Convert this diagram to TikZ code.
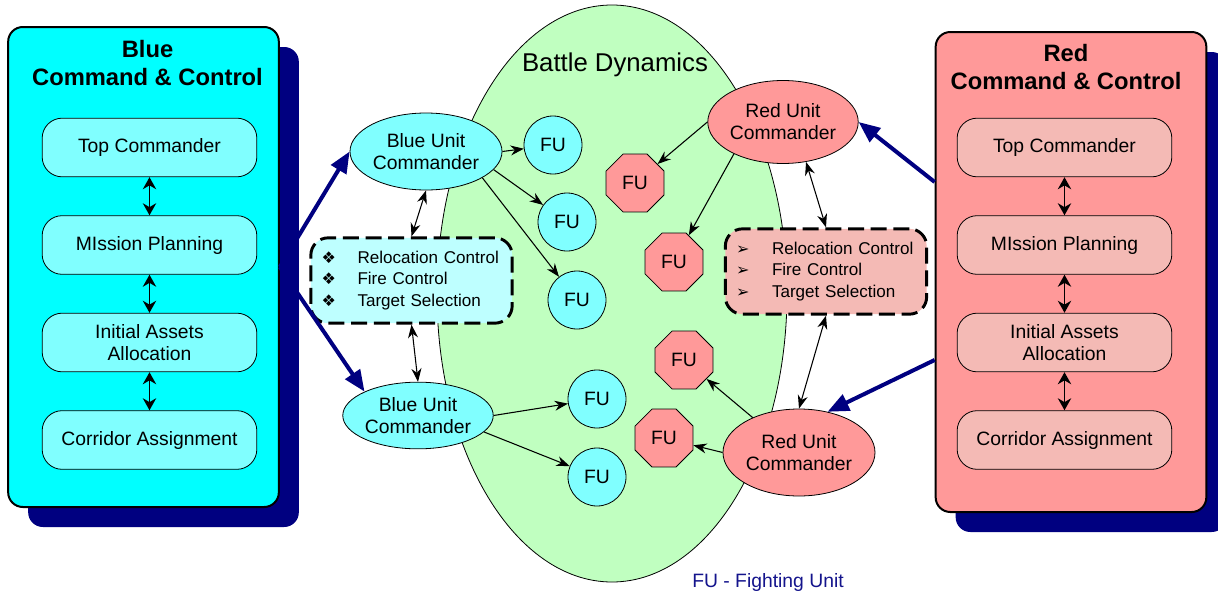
\documentclass[tikz,border=0pt]{standalone}
\usepackage{fontspec}
\setmainfont{Liberation Sans}
\newfontfamily\symfont{DejaVu Sans}
\usetikzlibrary{shapes.geometric,arrows.meta,shadows}
\definecolor{navyblue}{RGB}{0,0,128}
\definecolor{cyanfull}{RGB}{0,255,255}
\definecolor{bluelight}{RGB}{128,255,255}
\definecolor{bluepale}{RGB}{190,255,255}
\definecolor{redmid}{RGB}{255,153,153}
\definecolor{redpale}{RGB}{244,186,181}
\definecolor{greenpale}{RGB}{192,255,192}
\definecolor{legendblue}{RGB}{20,20,140}
\newcommand{\bulletbox}[1]{\makebox[27pt][l]{\symfont\fontsize{12}{12}\selectfont #1}}
\begin{document}
\begin{tikzpicture}[x=0.75pt,y=-0.75pt]
	\tikzstyle{pnl} = [draw, line width=1.5pt, rounded corners=11pt, minimum width=203pt, minimum height=360pt, drop shadow={shadow xshift=15pt, shadow yshift=-15pt, fill=navyblue, opacity=1}]
	\tikzstyle{task} = [draw, line width=0.6pt, rounded corners=15pt, minimum width=161pt, minimum height=44pt, align=center, font=\fontsize{14.5}{17}\selectfont]
	\tikzstyle{unit} = [draw, line width=0.6pt, shape=ellipse, inner sep=0pt, align=center, font=\fontsize{14.5}{16.5}\selectfont]
	\tikzstyle{bfu} = [draw, line width=0.6pt, shape=circle, fill=bluelight, minimum size=43.5pt, inner sep=0pt, font=\fontsize{14.5}{17}\selectfont]
	\tikzstyle{rfu} = [draw, line width=0.6pt, shape=regular polygon, regular polygon sides=8, fill=redmid, minimum size=47pt, inner sep=0pt, font=\fontsize{14.5}{17}\selectfont]
	\tikzstyle{orders} = [draw, line width=2.2pt, dash pattern=on 12pt off 5pt, rounded corners=13pt, minimum height=64pt, text width=135pt, inner xsep=8pt, align=left, font=\fontsize{12.8}{16}\selectfont]
	\tikzstyle{title} = [align=center, font=\bfseries\fontsize{17.8}{21}\selectfont]
	\tikzstyle{chain} = [{Stealth[length=9pt,width=10pt]}-{Stealth[length=9pt,width=10pt]}, line width=1.3pt]
	\tikzstyle{link} = [{Stealth[length=10pt,width=7.5pt]}-{Stealth[length=10pt,width=7.5pt]}, line width=0.8pt]
	\tikzstyle{cmd} = [-{Stealth[length=10pt,width=7.5pt]}, line width=0.8pt]
	\tikzstyle{tie} = [-{Triangle[length=16pt,width=13pt]}, line width=3pt, draw=navyblue]

	\useasboundingbox (0,0) rectangle (1218,596);

	% battle area
	\node[draw, line width=0.6pt, shape=ellipse, fill=greenpale, minimum width=262.5pt, minimum height=432.75pt] (battle) at (612,293.5) {};
	\node[font=\fontsize{19.3}{22}\selectfont] (bdtitle) at (615,65) {Battle Dynamics};

	% blue command and control
	\node[pnl, fill=cyanfull] (bcc) at (143.5,267) {};
	\node[title] (btitle) at (147.5,63) {Blue\\Command \& Control};
	\node[task, fill=bluelight] (btop) at (149.5,147.5) {Top Commander};
	\node[task, fill=bluelight] (bplan) at (149.5,245) {MIssion Planning};
	\node[task, fill=bluelight] (bassets) at (149.5,342.5) {Initial Assets\\Allocation};
	\node[task, fill=bluelight] (bcorr) at (149.5,440) {Corridor Assignment};
	\draw[chain] (btop) -- (bplan);
	\draw[chain] (bplan) -- (bassets);
	\draw[chain] (bassets) -- (bcorr);

	% red command and control
	\node[pnl, fill=redmid] (rcc) at (1071,272) {};
	\node[title] (rtitle) at (1066,67.5) {Red\\Command \& Control};
	\node[task, fill=redpale] (rtop) at (1064.5,147.5) {Top Commander};
	\node[task, fill=redpale] (rplan) at (1064.5,245) {MIssion Planning};
	\node[task, fill=redpale] (rassets) at (1064.5,342.5) {Initial Assets\\Allocation};
	\node[task, fill=redpale] (rcorr) at (1064.5,440) {Corridor Assignment};
	\draw[chain] (rtop) -- (rplan);
	\draw[chain] (rplan) -- (rassets);
	\draw[chain] (rassets) -- (rcorr);

	% unit commanders
	\node[unit, fill=bluelight, minimum width=114pt, minimum height=57.75pt] (bunit1) at (426,151.5) {Blue Unit\\Commander};
	\node[unit, fill=bluelight, minimum width=109.5pt, minimum height=50pt] (bunit2) at (418,415.5) {Blue Unit\\Commander};
	\node[unit, fill=redmid, minimum width=109.5pt, minimum height=62.25pt] (runit1) at (783,122) {Red Unit\\Commander};
	\node[unit, fill=redmid, minimum width=114pt, minimum height=65.25pt] (runit2) at (799,452.5) {Red Unit\\Commander};

	% fighting units
	\node[bfu] (bfu1) at (553,145) {FU};
	\node[bfu] (bfu2) at (567,222) {FU};
	\node[bfu] (bfu3) at (577,300) {FU};
	\node[bfu] (bfu4) at (597,399) {FU};
	\node[bfu] (bfu5) at (597,477) {FU};
	\node[rfu] (rfu1) at (635,183) {FU};
	\node[rfu] (rfu2) at (674,262) {FU};
	\node[rfu] (rfu3) at (684,360) {FU};
	\node[rfu] (rfu4) at (664,438) {FU};

	% orders
	\node[orders, fill=bluepale] (borders) at (411.5,280.5) {\bulletbox{❖}Relocation Control\\\bulletbox{❖}Fire Control\\\bulletbox{❖}Target Selection};
	\node[orders, fill=redpale] (rorders) at (826,271.5) {\bulletbox{➢}Relocation Control\\\bulletbox{➢}Fire Control\\\bulletbox{➢}Target Selection};

	% connectors
	\draw[tie] (bcc.east) -- (bunit1.west);
	\draw[tie] (bcc.east) -- (bunit2.north west);
	\draw[tie] ([yshift=67.5pt]rcc.west) -- (runit1.east);
	\draw[tie] ([yshift=-66pt]rcc.west) -- (runit2.55);

	\draw[link] (bunit1.south) -- (borders.north);
	\draw[link] (borders.south) -- (bunit2.north);
	\draw[link] (runit1.-60) -- (rorders.north);
	\draw[link] (rorders.south) -- (runit2.north);

	\draw[cmd] (bunit1.east) -- (bfu1);
	\draw[cmd] (bunit1.-15) -- (bfu2);
	\draw[cmd] (bunit1.-25) -- (bfu3);
	\draw[cmd] (bunit2.east) -- (bfu4);
	\draw[cmd] (bunit2.-14) -- (bfu5);
	\draw[cmd] (runit1.west) -- (rfu1);
	\draw[cmd] (runit1.213) -- (rfu2);
	\draw[cmd] (runit2.143) -- (rfu3);
	\draw[cmd] (runit2.west) -- (rfu4);

	\node[text=legendblue, font=\fontsize{14.5}{17}\selectfont] (legend) at (768,582) {FU - Fighting Unit};
\end{tikzpicture}
\end{document}
